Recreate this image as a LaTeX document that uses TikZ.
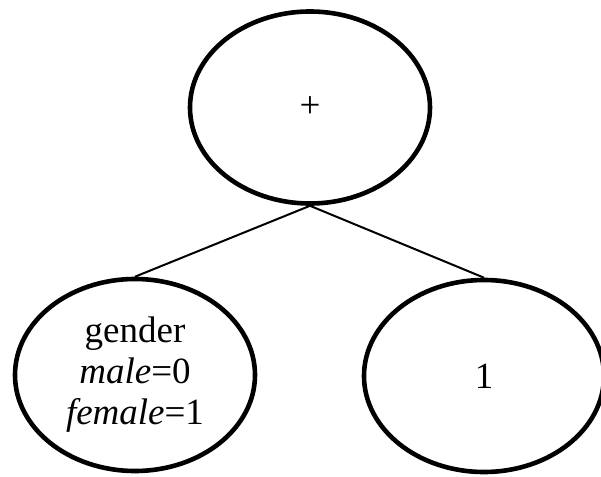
\documentclass[tikz,border=0pt]{standalone}
\usepackage{fontspec}
\setmainfont{Liberation Serif}
\usepackage{tikz}
\usetikzlibrary{shapes.geometric}
\tikzset{term/.style={draw,ellipse,line width=2.3pt,minimum width=120pt,minimum height=96pt,inner sep=0pt,align=center,font=\fontsize{18.5}{20.5}\selectfont}}

\begin{document}
\begin{tikzpicture}[x=0.5pt,y=-0.5pt]
\useasboundingbox (0,0) rectangle (601,477);
\node[term] (plus) at (310,107.5) {+};
\node[term] (gender) at (135,375) {gender\\\textit{male}=0\\\textit{female}=1};
\node[term] (one) at (484,376) {1};
\draw[line width=1pt] (plus.south) -- (gender.north);
\draw[line width=1pt] (plus.south) -- (one.north);
\end{tikzpicture}
\end{document}
